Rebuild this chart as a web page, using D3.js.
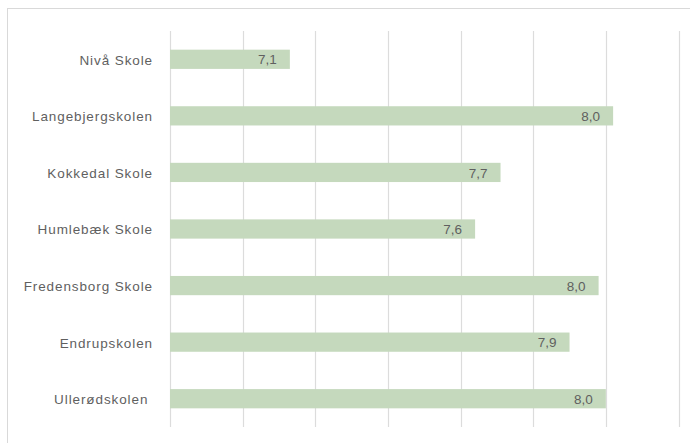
<!DOCTYPE html>
<html>
<head>
<meta charset="utf-8">
<script src="https://cdn.jsdelivr.net/npm/d3@7"></script>
<style>
  body { margin: 0; background: #fff; }
  svg { display: block; }
</style>
</head>
<body>
<svg></svg>
<script>
let width = 690, height = 443;

// data
let schools = ["Nivå Skole", "Langebjergskolen", "Kokkedal Skole", "Humlebæk Skole",
               "Fredensborg Skole", "Endrupskolen", "Ullerødskolen "];
let scores = [7.13, 8.02, 7.71, 7.64, 7.98, 7.90, 8.00];
let ticks = [6.8, 7.0, 7.2, 7.4, 7.6, 7.8, 8.0, 8.2];

let rows = schools.map((s, i) => ({ name: s, value: scores[i] }));

let svg = d3.select("svg")
    .attr("width", width)
    .attr("height", height);

// chart frame (runs off the right and bottom edge)
svg.append("rect")
    .attr("x", 7.5)
    .attr("y", 8.5)
    .attr("width", 720)
    .attr("height", 480)
    .attr("fill", "#fff")
    .attr("stroke", "#d9d9d9");

let x = d3.scaleLinear()
    .domain([6.8, 8.2])
    .range([170, 678.5]);

let y = d3.scaleBand()
    .domain(schools)
    .range([31, 427])
    .paddingInner(0.66)
    .paddingOuter(0.33);

// gridlines
svg.append("g")
    .selectAll("line")
    .data(ticks)
    .enter()
    .append("line")
    .attr("x1", d => Math.round(x(d)) + 0.5)
    .attr("x2", d => Math.round(x(d)) + 0.5)
    .attr("y1", 31)
    .attr("y2", 427)
    .attr("stroke", "#dcdcdc")
    .attr("stroke-width", 1.2);

// bars
svg.append("g")
    .selectAll("rect")
    .data(rows)
    .enter()
    .append("rect")
    .attr("x", x(6.8))
    .attr("y", d => y(d.name))
    .attr("width", d => x(d.value) - x(6.8))
    .attr("height", y.bandwidth())
    .attr("fill", "#c5d9bd");

// value labels inside bar end
svg.append("g")
    .selectAll("text")
    .data(rows)
    .enter()
    .append("text")
    .attr("x", d => x(d.value) - 13)
    .attr("y", d => y(d.name) + y.bandwidth() / 2)
    .attr("dy", "0.38em")
    .attr("text-anchor", "end")
    .style("font-family", "'Liberation Sans', Arial, sans-serif")
    .style("font-size", "13.5px")
    .style("fill", "#5f5f5f")
    .text(d => d.value.toFixed(1).replace(".", ","));

// category labels
svg.append("g")
    .selectAll("text")
    .data(rows)
    .enter()
    .append("text")
    .attr("x", 153)
    .attr("y", d => y(d.name) + y.bandwidth() / 2)
    .attr("dy", "0.4em")
    .attr("text-anchor", "end")
    .style("white-space", "pre")
    .style("font-family", "'Liberation Sans', Arial, sans-serif")
    .style("font-size", "13.5px")
    .style("letter-spacing", "0.9px")
    .style("fill", "#5f5f5f")
    .text(d => d.name);
</script>
</body>
</html>
